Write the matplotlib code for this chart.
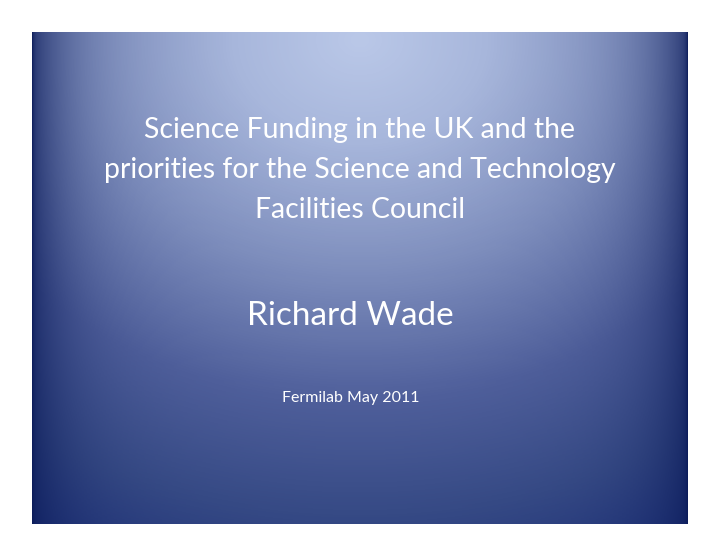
import numpy as np
import matplotlib
matplotlib.use('Agg')
import matplotlib.pyplot as plt
from matplotlib.colors import LinearSegmentedColormap, to_rgb

# slide text
title_lines = ['Science Funding in the UK and the',
               'priorities for the Science and Technology',
               'Facilities Council']
author = 'Richard Wade'
event = 'Fermilab May 2011'

# background gradient stops (distance from top centre, colour)
grad_pos = [0, 100, 230, 360, 475, 560, 640]
grad_col = ['#bac8e8', '#a8b7dc', '#7e8ebd', '#4f5f9b', '#364a85',
            '#22357a', '#152866']
edge_col = '#0a1a58'

fig = plt.figure(figsize=(7.2, 5.57), dpi=100)
ax = fig.add_axes([0, 0, 1, 1])
ax.set_xlim(0, 720)
ax.set_ylim(557, 0)
ax.axis('off')

# slide area with radial gradient
x0, x1, y0, y1 = 32, 688, 32, 524
xx, yy = np.meshgrid(np.arange(x0, x1) + 0.5, np.arange(y0, y1) + 0.5)
r = np.sqrt(((xx - 360) * 0.8) ** 2 + (yy - 40) ** 2)
cmap = LinearSegmentedColormap.from_list(
    'slide', list(zip(np.array(grad_pos) / grad_pos[-1], grad_col)))
rgb = cmap(np.clip(r / grad_pos[-1], 0, 1))[..., :3]

# darker towards the side edges
d = np.minimum(xx - x0, x1 - xx)
w = np.clip(0.7 * np.exp(-d / 40) + 0.3 * np.exp(-d / 2), 0, 1)
rgb = rgb * (1 - w[..., None]) + np.array(to_rgb(edge_col)) * w[..., None]
ax.imshow(rgb, extent=[x0, x1, y1, y0], interpolation='bilinear', zorder=0)

font = 'Lato'
for i, line in enumerate(title_lines):
    ax.text(360, 138 + 40 * i, line, color='white', fontsize=20.4,
            family=font, ha='center', va='baseline')
ax.text(350, 325, author, color='white', fontsize=24,
        family=font, ha='center', va='baseline')
ax.text(351, 402, event, color='white', fontsize=11.5,
        family=font, ha='center', va='baseline')

fig.savefig('out.png', dpi=100)
